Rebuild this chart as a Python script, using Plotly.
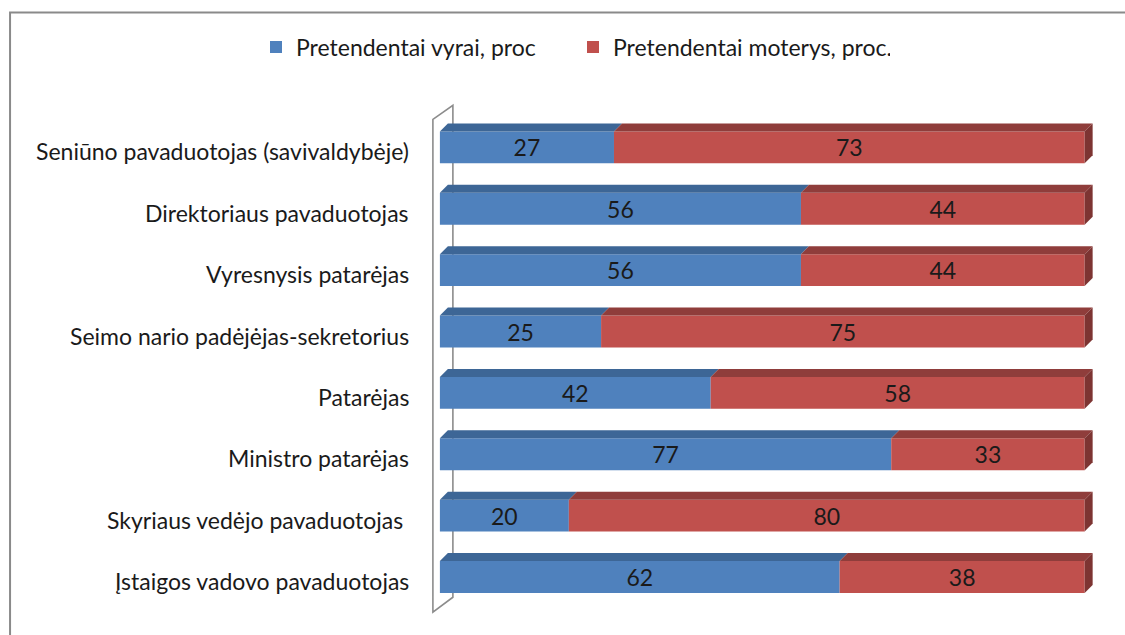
import plotly.graph_objects as go

# Positions, top to bottom
categories = [
    "Seniūno pavaduotojas (savivaldybėje)",
    "Direktoriaus pavaduotojas",
    "Vyresnysis patarėjas",
    "Seimo nario padėjėjas-sekretorius",
    "Patarėjas",
    "Ministro patarėjas",
    "Skyriaus vedėjo pavaduotojas ",
    "Įstaigos vadovo pavaduotojas",
]
men = [27, 56, 56, 25, 42, 77, 20, 62]
women = [73, 44, 44, 75, 58, 33, 80, 38]
series_names = ["Pretendentai vyrai, proc", "Pretendentai moterys, proc."]

W, H = 1125, 635
FONT = "Lato"
FS = 23
TXT = "#1a1a1a"
BLUE, BLUE_TOP = "#4F81BD", "#3D6696"
RED, RED_TOP, RED_SIDE = "#C0504D", "#8F3D3B", "#7D3432"

# Axis geometry (pixels)
PX_PER_X = 6.45          # pixels per percent
PX_PER_CAT = 61.4        # pixels per category row
X0_PX, Y0_PX = 440, 147  # pixel of x=0 and of the first row centre
XR = (-2.0, 103.0)
YR = (-1.0, 7.7)
L = X0_PX + XR[0] * PX_PER_X
R = X0_PX + XR[1] * PX_PER_X
T = Y0_PX + YR[0] * PX_PER_CAT
B = Y0_PX + YR[1] * PX_PER_CAT

BAR_W = 0.52
DX = 8 / PX_PER_X        # depth offset, x
DY = 8 / PX_PER_CAT      # depth offset, y


def px_x(px):
    return (px - X0_PX) / PX_PER_X


def px_y(py):
    return (py - Y0_PX) / PX_PER_CAT


def paper_x(px):
    return (px - L) / (R - L)


def paper_y(py):
    return (B - py) / (B - T)


ypos = list(range(len(categories)))
totals = [m + w for m, w in zip(men, women)]
men_pct = [100 * m / t for m, t in zip(men, totals)]
women_pct = [100 * w / t for w, t in zip(women, totals)]

bar_text = dict(textposition="inside", insidetextanchor="middle", textangle=0,
                constraintext="none", textfont=dict(family=FONT, size=FS, color=TXT))

fig = go.Figure()
fig.add_trace(go.Bar(
    y=ypos, x=men_pct, orientation="h", name=series_names[0],
    marker=dict(color=BLUE, line=dict(width=0)), width=BAR_W,
    text=[str(v) for v in men], **bar_text,
))
fig.add_trace(go.Bar(
    y=ypos, x=women_pct, orientation="h", name=series_names[1], base=men_pct,
    marker=dict(color=RED, line=dict(width=0)), width=BAR_W,
    text=[str(v) for v in women], **bar_text,
))

shapes = []

# Back wall behind the bars
wf, wb = px_x(433), px_x(453)
shapes.append(dict(
    type="path", xref="x", yref="y", layer="below",
    path=(f"M {wf},{px_y(612)} L {wf},{px_y(119)} L {wb},{px_y(105)} "
          f"L {wb},{px_y(597)} Z"),
    line=dict(color="#8c8c8c", width=1.6), fillcolor="rgba(0,0,0,0)",
))

# Top and end faces of each stacked bar
for i, (m, w) in enumerate(zip(men_pct, women_pct)):
    top = i - BAR_W / 2
    bot = i + BAR_W / 2
    for a, b, col in ((0, m, BLUE_TOP), (m, m + w, RED_TOP)):
        shapes.append(dict(
            type="path", xref="x", yref="y", layer="above",
            path=(f"M {a},{top} L {b},{top} L {b + DX},{top - DY} "
                  f"L {a + DX},{top - DY} Z"),
            line=dict(width=0), fillcolor=col,
        ))
    e = m + w
    shapes.append(dict(
        type="path", xref="x", yref="y", layer="above",
        path=(f"M {e},{top} L {e + DX},{top - DY} L {e + DX},{bot - DY} "
              f"L {e},{bot} Z"),
        line=dict(width=0), fillcolor=RED_SIDE,
    ))

# Chart frame
shapes.append(dict(
    type="rect", xref="paper", yref="paper",
    x0=paper_x(10), x1=paper_x(W + 20), y0=paper_y(H + 20), y1=paper_y(12),
    line=dict(color="#8a8a8a", width=2), fillcolor="rgba(0,0,0,0)", layer="below",
))

# Category labels
annotations = [
    dict(x=paper_x(411), xref="paper", y=i, yref="y", text=c,
         xanchor="right", yanchor="middle", yshift=-4, showarrow=False,
         font=dict(family=FONT, size=FS, color=TXT))
    for i, c in zip(ypos, categories)
]

fig.update_layout(
    width=W, height=H,
    margin=dict(l=L, r=W - R, t=T, b=H - B, pad=0),
    barmode="overlay",
    uniformtext=dict(mode=False),
    plot_bgcolor="white", paper_bgcolor="white",
    font=dict(family=FONT, size=FS, color=TXT),
    showlegend=True,
    legend=dict(
        orientation="h", xref="container", yref="container",
        x=256 / W, xanchor="left", y=1 - 47 / H, yanchor="middle",
        font=dict(family=FONT, size=FS, color=TXT),
        traceorder="normal", entrywidth=272, entrywidthmode="pixels",
    ),
    xaxis=dict(range=list(XR), showgrid=False, zeroline=False, showline=False,
               showticklabels=False, ticks="", fixedrange=True),
    yaxis=dict(range=[YR[1], YR[0]], showgrid=False, zeroline=False,
               showline=False, ticks="", showticklabels=False),
    shapes=shapes,
    annotations=annotations,
)

fig.write_html("out.html")
